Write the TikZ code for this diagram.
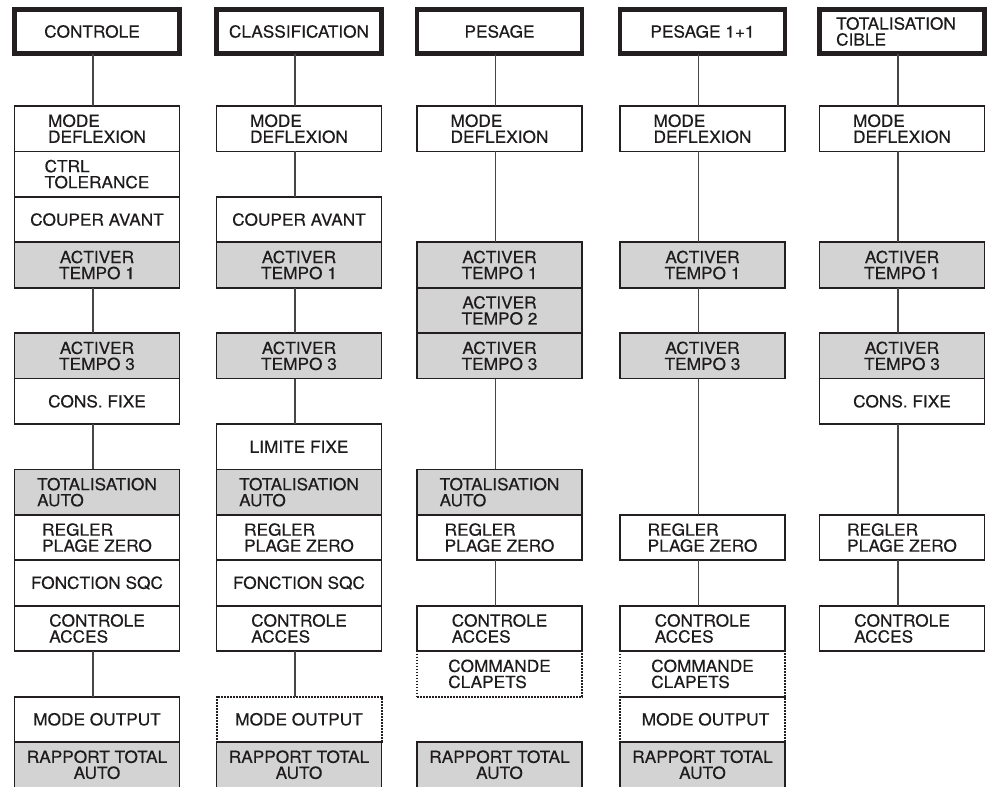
\documentclass[tikz,border=0pt]{standalone}
\usepackage{fontspec}
\setmainfont{TeX Gyre Heros}[FakeStretch=1.04, FakeBold=0.35]
\begin{document}
\begin{tikzpicture}[x=1pt,y=-1pt,
  base/.style={rectangle, inner sep=0pt, outer sep=0pt, minimum width=165pt, minimum height=45.43pt,
    font={\fontsize{16.6}{16}\selectfont}, text={rgb,255:red,30;green,27;blue,28}, draw={rgb,255:red,35;green,31;blue,32}, line width=1.8pt},
  wbox/.style={base, align=left},
  gbox/.style={base, fill={rgb,255:red,211;green,211;blue,212}, align=center},
  gboxl/.style={base, fill={rgb,255:red,211;green,211;blue,212}, align=left},
  dbox/.style={base, align=left, line width=2pt, dash pattern=on 1.6pt off 1.4pt},
  hbox/.style={base, align=left, line width=4.5pt, minimum height=44pt},
  link/.style={draw={rgb,255:red,70;green,70;blue,70}, line width=1.1pt}]
\clip (0,0) rectangle (988,787);
\useasboundingbox (0,0) rectangle (988,787);
\fill[white] (0,0) rectangle (988,787);
% dotted boxes first
\node[dbox] (c2r14) at (299,719.31) {MODE OUTPUT};
\node[dbox] (c3r13) at (499.5,673.88) {COMMANDE\\CLAPETS};
\node[dbox] (c4r13) at (702.5,673.88) {COMMANDE\\CLAPETS};
\node[dbox] (c4r14) at (702.5,719.31) {\hspace*{6pt}MODE OUTPUT};
% column 1
\node[hbox] (c1h) at (97,31.5) {CONTROLE\hspace*{10pt}};
\node[wbox] (c1r1) at (97,128.72) {MODE\\DEFLEXION};
\node[wbox] (c1r2) at (97,174.15) {CTRL\\TOLERANCE};
\node[wbox] (c1r3) at (97,219.58) {COUPER AVANT};
\node[gbox] (c1r4) at (97,265.01) {ACTIVER\\TEMPO 1};
\node[gbox] (c1r6) at (97,355.87) {ACTIVER\\TEMPO 3};
\node[wbox] (c1r7) at (97,401.30) {CONS. FIXE};
\node[gboxl] (c1r9) at (97,492.16) {TOTALISATION\\AUTO};
\node[wbox] (c1r10) at (97,537.59) {REGLER\\PLAGE ZERO};
\node[wbox] (c1r11) at (97,583.02) {FONCTION SQC};
\node[wbox] (c1r12) at (97,628.45) {CONTROLE\\ACCES};
\node[wbox] (c1r14) at (97,719.31) {MODE OUTPUT};
\node[gbox] (c1r15) at (97,764.74) {RAPPORT TOTAL\\AUTO};
% column 2
\node[hbox] (c2h) at (299,31.5) {CLASSIFICATION};
\node[wbox] (c2r1) at (299,128.72) {MODE\\DEFLEXION};
\node[wbox] (c2r3) at (299,219.58) {COUPER AVANT};
\node[gbox] (c2r4) at (299,265.01) {ACTIVER\\TEMPO 1};
\node[gbox] (c2r6) at (299,355.87) {ACTIVER\\TEMPO 3};
\node[wbox] (c2r8) at (299,446.73) {LIMITE FIXE};
\node[gboxl] (c2r9) at (299,492.16) {TOTALISATION\\AUTO};
\node[wbox] (c2r10) at (299,537.59) {REGLER\\PLAGE ZERO};
\node[wbox] (c2r11) at (299,583.02) {FONCTION SQC};
\node[wbox] (c2r12) at (299,628.45) {CONTROLE\\ACCES};
\node[gbox] (c2r15) at (299,764.74) {RAPPORT TOTAL\\AUTO};
% column 3
\node[hbox] (c3h) at (499.5,31.5) {PESAGE};
\node[wbox] (c3r1) at (499.5,128.72) {MODE\\DEFLEXION};
\node[gbox] (c3r4) at (499.5,265.01) {ACTIVER\\TEMPO 1};
\node[gbox] (c3r5) at (499.5,310.44) {ACTIVER\\TEMPO 2};
\node[gbox] (c3r6) at (499.5,355.87) {ACTIVER\\TEMPO 3};
\node[gboxl] (c3r9) at (499.5,492.16) {TOTALISATION\\AUTO};
\node[wbox] (c3r10) at (499.5,537.59) {REGLER\\PLAGE ZERO};
\node[wbox] (c3r12) at (499.5,628.45) {CONTROLE\\ACCES};
\node[gbox] (c3r15) at (499.5,764.74) {RAPPORT TOTAL\\AUTO};
% column 4
\node[hbox] (c4h) at (702.5,31.5) {PESAGE 1+1};
\node[wbox] (c4r1) at (702.5,128.72) {MODE\\DEFLEXION};
\node[gbox] (c4r4) at (702.5,265.01) {ACTIVER\\TEMPO 1};
\node[gbox] (c4r6) at (702.5,355.87) {ACTIVER\\TEMPO 3};
\node[wbox] (c4r10) at (702.5,537.59) {REGLER\\PLAGE ZERO};
\node[wbox] (c4r12) at (702.5,628.45) {CONTROLE\\ACCES};
\node[gbox] (c4r15) at (702.5,764.74) {RAPPORT TOTAL\\AUTO};
% column 5
\node[hbox] (c5h) at (902,31.5) {TOTALISATION\hspace*{12pt}\\CIBLE};
\node[wbox] (c5r1) at (902,128.72) {MODE\\DEFLEXION};
\node[gbox] (c5r4) at (902,265.01) {ACTIVER\\TEMPO 1};
\node[gbox] (c5r6) at (902,355.87) {ACTIVER\\TEMPO 3};
\node[wbox] (c5r7) at (902,401.30) {CONS. FIXE};
\node[wbox] (c5r10) at (902,537.59) {REGLER\\PLAGE ZERO};
\node[wbox] (c5r12) at (902,628.45) {CONTROLE\\ACCES};
% connectors
\foreach \a/\b in {c1h/c1r1, c1r4/c1r6, c1r7/c1r9, c1r12/c1r14,
                   c2h/c2r1, c2r1/c2r3, c2r4/c2r6, c2r6/c2r8, c2r12/c2r14,
                   c3h/c3r1, c3r1/c3r4, c3r6/c3r9, c3r10/c3r12,
                   c4h/c4r1, c4r1/c4r4, c4r4/c4r6, c4r6/c4r10, c4r10/c4r12,
                   c5h/c5r1, c5r1/c5r4, c5r4/c5r6, c5r7/c5r10, c5r10/c5r12}
  \draw[link] ([xshift=-4pt]\a.south) -- ([xshift=-4pt]\b.north);
\end{tikzpicture}
\end{document}
